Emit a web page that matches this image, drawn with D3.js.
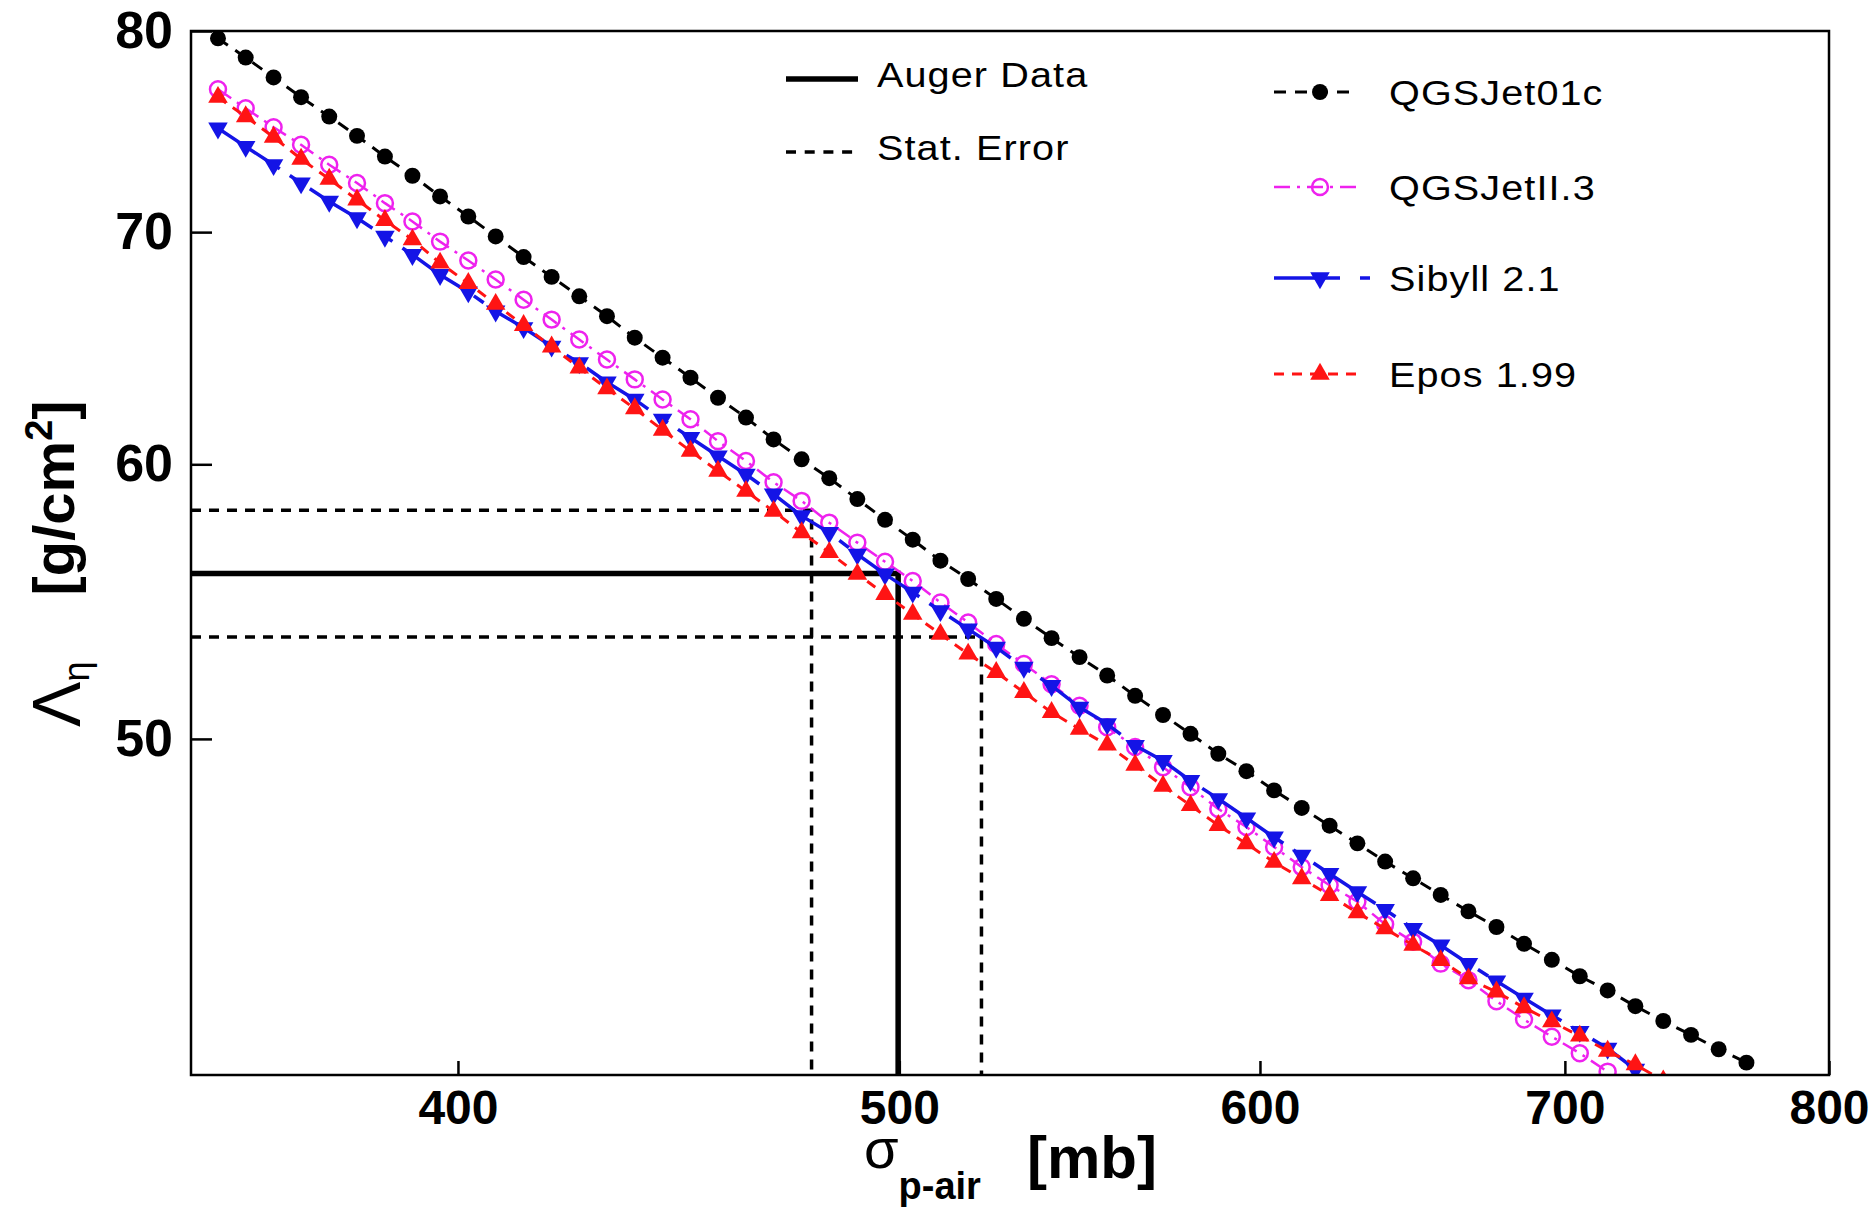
<!DOCTYPE html>
<html>
<head>
<meta charset="utf-8">
<script src="https://cdn.jsdelivr.net/npm/d3@7"></script>
<style>
  body { margin: 0; background: #fff; }
  text { font-family: "Liberation Sans", Arial, sans-serif; }
</style>
</head>
<body>
<svg id="chart"></svg>
<script>
var WIDTH = 1876,
    HEIGHT = 1207,
    MARGINS = { top: 31, right: 47, bottom: 132, left: 191 };

// sigma p-air [mb], shared grid of the model curves
var sigma = [354.3, 359.3, 364.4, 369.5, 374.8, 380.1, 385.5, 390.9, 396.4, 402.1,
  407.7, 413.5, 419.4, 425.3, 431.3, 437.4, 443.6, 449.9, 456.2, 462.7,
  469.2, 475.9, 482.6, 489.5, 496.4, 503.4, 510.5, 517.7, 525.1, 532.5,
  540.0, 547.7, 555.4, 563.3, 571.3, 579.3, 587.5, 595.9, 604.3, 612.8,
  621.5, 630.3, 639.2, 648.3, 657.4, 666.7, 676.2, 685.7, 695.4, 705.3,
  715.3, 725.4, 735.7, 746.1, 756.6, 767.3];

// Lambda_eta [g/cm2] per model
var qgsjet01c = [79.61, 78.60, 77.57, 76.56, 75.58, 74.62, 73.60, 72.67, 71.68, 70.73,
  69.80, 68.85, 67.95, 67.08, 66.20, 65.26, 64.40, 63.55, 62.71, 61.89,
  61.00, 60.20, 59.45, 58.63, 57.83, 57.07, 56.28, 55.60, 54.87, 54.15,
  53.46, 52.79, 52.15, 51.45, 50.80, 50.17, 49.51, 48.94, 48.32, 47.76,
  47.20, 46.65, 46.09, 45.58, 45.08, 44.59, 44.13, 43.64, 43.18, 42.71,
  42.31, 41.87, 41.46, 41.08, 40.69, 40.33];

var qgsjetII3 = [76.97, 76.00, 75.05, 74.18, 73.20, 72.32, 71.36, 70.50, 69.56, 68.69,
  67.83, 66.93, 66.05, 65.18, 64.32, 63.48, 62.64, 61.82, 60.93, 60.13,
  59.29, 58.56, 57.72, 56.96, 56.24, 55.53, 54.74, 54.02, 53.25, 52.55,
  51.85, 51.11, 50.39, 49.73, 49.07, 48.42, 47.73, 47.16, 46.54, 45.92,
  45.37, 44.88, 44.21, 43.70, 43.07, 42.60, 42.01, 41.50, 41.03, 40.58,
  40.09];

var sibyll21 = [75.00, 74.09, 73.20, 72.32, 71.44, 70.66, 69.80, 68.96, 68.05, 67.27,
  66.42, 65.69, 64.89, 64.18, 63.36, 62.64, 61.82, 61.07, 60.33, 59.60,
  58.82, 57.98, 57.34, 56.52, 55.78, 55.11, 54.44, 53.78, 53.13, 52.43,
  51.80, 51.06, 50.50, 49.78, 49.28, 48.63, 48.05, 47.44, 46.84, 46.28,
  45.72, 45.17, 44.64, 44.08, 43.60, 43.07, 42.57, 42.09, 41.62, 41.17,
  40.71, 40.15];

var epos199 = [76.56, 75.58, 74.56, 73.48, 72.51, 71.52, 70.55, 69.65, 68.58, 67.66,
  66.73, 65.80, 64.87, 63.97, 63.09, 62.26, 61.38, 60.53, 59.73, 58.94,
  58.16, 57.34, 56.59, 55.78, 55.04, 54.32, 53.60, 52.90, 52.26, 51.57,
  50.89, 50.33, 49.80, 49.14, 48.46, 47.84, 47.21, 46.64, 46.07, 45.57,
  45.07, 44.55, 44.08, 43.60, 43.16, 42.64, 42.27, 41.83, 41.44, 41.05,
  40.64, 40.28, 39.85];

// Auger result: lower stat., central, upper stat.
var augerSigma = [478.3, 499.7, 521.2];
var augerLambda = [58.2, 55.8, 53.5];

var xTicks = [400, 500, 600, 700, 800];
var yTicks = [50, 60, 70, 80];

var models = [
  { name: "QGSJet01c", values: qgsjet01c, color: "#000000", dash: "12,9", width: 3, marker: "dot" },
  { name: "QGSJetII.3", values: qgsjetII3, color: "#ee22ee", dash: "16,7,3,7", width: 2.5, marker: "ring" },
  { name: "Sibyll 2.1", values: sibyll21, color: "#1414e6", dash: "74,12,12,12", width: 3.5, marker: "down" },
  { name: "Epos 1.99", values: epos199, color: "#ff1414", dash: "10,8", width: 3, marker: "up" }
];

var vis = d3.select("#chart").attr("width", WIDTH).attr("height", HEIGHT);
vis.append("rect").attr("width", WIDTH).attr("height", HEIGHT).attr("fill", "#fff");

var xScale = d3.scaleLog().domain([349.5, 800]).range([MARGINS.left, WIDTH - MARGINS.right]),
    yScale = d3.scaleLog().domain([40, 80]).range([HEIGHT - MARGINS.bottom, MARGINS.top]);

vis.append("clipPath").attr("id", "plotclip")
  .append("rect")
  .attr("x", MARGINS.left).attr("y", MARGINS.top)
  .attr("width", WIDTH - MARGINS.right - MARGINS.left)
  .attr("height", HEIGHT - MARGINS.bottom - MARGINS.top);

var plot = vis.append("g").attr("clip-path", "url(#plotclip)");

// Auger data lines
var lineGen = d3.line()
  .x(function(d) { return xScale(d[0]); })
  .y(function(d) { return yScale(d[1]); });

augerSigma.forEach(function(s, i) {
  var pts = [[xScale.domain()[0], augerLambda[i]], [s, augerLambda[i]], [s, yScale.domain()[0]]];
  plot.append("path")
    .attr("d", lineGen(pts))
    .attr("fill", "none")
    .attr("stroke", "#000")
    .attr("stroke-width", i == 1 ? 5.5 : 3.5)
    .attr("stroke-dasharray", i == 1 ? null : "10,8");
});

var symbolPath = function(kind) {
  if (kind == "dot") return d3.symbol(d3.symbolCircle, 200)();
  if (kind == "ring") return d3.symbol(d3.symbolCircle, 200)();
  return d3.symbol(d3.symbolTriangle, 165)();
};

var drawMarker = function(g, m, x, y) {
  var p = g.append("path")
    .attr("d", symbolPath(m.marker))
    .attr("transform", "translate(" + x + "," + y + ")" + (m.marker == "down" ? " rotate(180)" : ""));
  if (m.marker == "ring") {
    p.attr("fill", "none").attr("stroke", m.color).attr("stroke-width", 2.5);
  } else {
    p.attr("fill", m.color);
  }
};

models.forEach(function(m) {
  var pts = m.values.map(function(v, i) { return [sigma[i], v]; });
  plot.append("path")
    .attr("d", lineGen(pts))
    .attr("fill", "none")
    .attr("stroke", m.color)
    .attr("stroke-width", m.width)
    .attr("stroke-dasharray", m.dash);
  pts.forEach(function(d) {
    drawMarker(plot, m, xScale(d[0]), yScale(d[1]));
  });
});

// axes
var xAxis = d3.axisBottom(xScale).tickValues(xTicks).tickFormat(d3.format("d"))
  .tickSize(-14).tickPadding(15);
var yAxis = d3.axisLeft(yScale).tickValues(yTicks).tickFormat(d3.format("d"))
  .tickSize(-21).tickPadding(18);

var gx = vis.append("g")
  .attr("transform", "translate(0," + (HEIGHT - MARGINS.bottom) + ")")
  .call(xAxis);
gx.selectAll("text").attr("font-size", 48).attr("font-weight", "bold").attr("fill", "#000")
  .attr("font-family", "'Liberation Sans', Arial, sans-serif");

var gy = vis.append("g")
  .attr("transform", "translate(" + MARGINS.left + ",0)")
  .call(yAxis);
gy.selectAll("text").attr("font-size", 52).attr("font-weight", "bold").attr("fill", "#000")
  .attr("font-family", "'Liberation Sans', Arial, sans-serif");

[gx, gy].forEach(function(g) {
  g.select(".domain").remove();
  g.selectAll(".tick line").attr("stroke", "#000").attr("stroke-width", 2.5);
});

vis.append("rect")
  .attr("x", MARGINS.left).attr("y", MARGINS.top)
  .attr("width", WIDTH - MARGINS.right - MARGINS.left)
  .attr("height", HEIGHT - MARGINS.bottom - MARGINS.top)
  .attr("fill", "none").attr("stroke", "#000").attr("stroke-width", 2.5);

// axis titles
var xt = vis.append("text").attr("x", 864).attr("y", 1168).attr("fill", "#000");
xt.append("tspan").attr("font-size", 56).text("\u03c3");
xt.append("tspan").attr("font-size", 38).attr("font-weight", "bold").attr("dy", 31).text("p-air");
vis.append("text").attr("x", 1027).attr("y", 1178).attr("font-size", 60)
  .attr("font-weight", "bold").attr("fill", "#000").text("[mb]");

var yt = vis.append("text").attr("transform", "translate(80,727) rotate(-90)").attr("fill", "#000");
yt.append("tspan").attr("font-size", 68).text("\u039b");
yt.append("tspan").attr("font-size", 36).attr("dy", 9).text("\u03b7");
yt.append("tspan").attr("font-size", 58).attr("font-weight", "bold").attr("dx", 66).attr("dy", -15).text("[g/cm");
yt.append("tspan").attr("font-size", 38).attr("font-weight", "bold").attr("dy", -22).text("2");
yt.append("tspan").attr("font-size", 58).attr("font-weight", "bold").attr("dy", 22).text("]");

// legend
var leg = vis.append("g");
var legendText = function(x, y, name) {
  leg.append("text")
    .attr("transform", "translate(" + x + "," + y + ") scale(1.1,1)")
    .attr("font-size", 36).attr("letter-spacing", 1).attr("fill", "#000").text(name);
};

var dataLegend = [
  { name: "Auger Data", y: 79, dash: null, width: 5.5 },
  { name: "Stat. Error", y: 152, dash: "10,8.7", width: 3.5 }
];
dataLegend.forEach(function(d) {
  leg.append("line").attr("x1", 786).attr("x2", 858).attr("y1", d.y).attr("y2", d.y)
    .attr("stroke", "#000").attr("stroke-width", d.width).attr("stroke-dasharray", d.dash);
  legendText(877, d.y + 8, d.name);
});

var legY = [92, 187, 278, 374];
models.forEach(function(m, i) {
  var y = legY[i];
  leg.append("line").attr("x1", 1274).attr("x2", m.marker == "down" ? 1370 : 1357)
    .attr("y1", y).attr("y2", y)
    .attr("stroke", m.color).attr("stroke-width", m.width)
    .attr("stroke-dasharray", m.marker == "down" ? "66,20,10" : m.dash);
  drawMarker(leg, m, 1320, y);
  legendText(1389, y + 13, m.name);
});
</script>
</body>
</html>
